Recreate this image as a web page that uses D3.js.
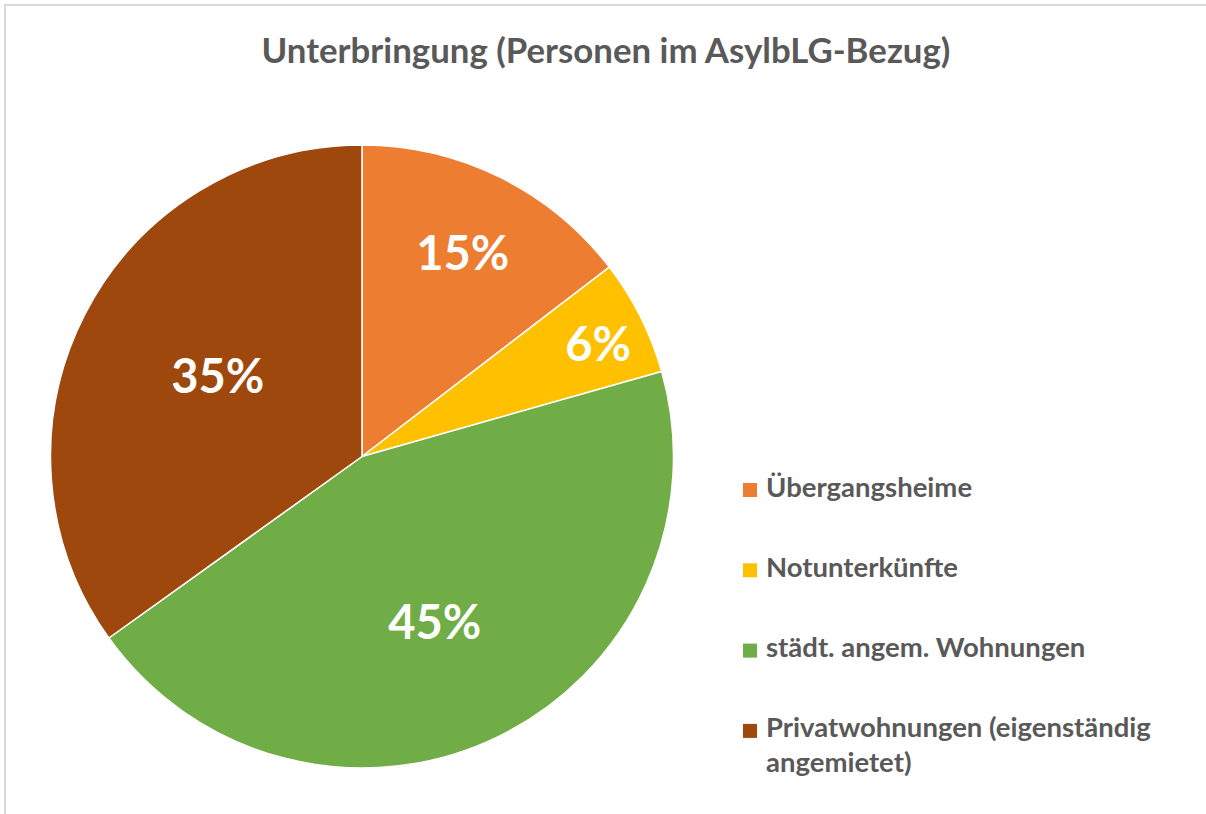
<!DOCTYPE html>
<html>
<head>
<meta charset="utf-8">
<script src="https://cdn.jsdelivr.net/npm/d3@7"></script>
<style>
  html, body { margin: 0; padding: 0; background: #fff; }
  svg { display: block; font-family: Lato, "Open Sans", sans-serif; }
</style>
</head>
<body>
<svg id="chart" width="1206" height="814"></svg>
<script>
// Unterbringung - pie chart, slices clockwise from 12 o'clock

const categories = [
  'Übergangsheime',
  'Notunterkünfte',
  'städt. angem. Wohnungen',
  'Privatwohnungen (eigenständig angemietet)'
];
const shares = [14.6, 6.0, 44.5, 34.9];
const percentLabels = ['15%', '6%', '45%', '35%']; // as printed on the slices
const legendLines = [
  ['Übergangsheime'],
  ['Notunterkünfte'],
  ['städt. angem. Wohnungen'],
  ['Privatwohnungen (eigenständig', 'angemietet)']
];
const colors = ['#ED7D31', '#FFC000', '#70AD47', '#9E480E'];

// layout
const cx = 362, cy = 456.5, radius = 311.5;
const labelRadius = [0.73, 0.84, 0.58, 0.53]; // Excel's best-fit spots, as fraction of radius
const labelTurn = [0, 0.02, 0.035, 0.035];    // small angular nudge (radians)

const svg = d3.select('#chart');

// chart area border (cut off at right and bottom in the reference)
svg.append('rect')
  .attr('x', 5).attr('y', 5)
  .attr('width', 1220).attr('height', 830)
  .attr('fill', '#fff')
  .attr('stroke', '#D9D9D9')
  .attr('stroke-width', 2);

// title
svg.append('text')
  .attr('x', 606)
  .attr('y', 63)
  .attr('text-anchor', 'middle')
  .attr('fill', '#595959')
  .attr('font-weight', 700)
  .attr('font-size', 34.8)
  .text('Unterbringung (Personen im AsylbLG-Bezug)');

const data = categories.map((c, i) => ({ name: c, value: shares[i], i }));

const pie = d3.pie()
  .sort(null)
  .value(d => d.value);

const arcs = pie(data);

const arc = d3.arc()
  .innerRadius(0)
  .outerRadius(radius);

const g = svg.append('g')
  .attr('transform', `translate(${cx},${cy})`);

g.selectAll('path.slice')
  .data(arcs)
  .enter()
  .append('path')
  .attr('class', 'slice')
  .attr('d', arc)
  .attr('fill', d => colors[d.data.i])
  .attr('stroke', '#fff')
  .attr('stroke-width', 1.5)
  .attr('stroke-linejoin', 'round');

// percentage labels
const midAngle = d => (d.startAngle + d.endAngle) / 2 + labelTurn[d.data.i];

g.selectAll('text.pct')
  .data(arcs)
  .enter()
  .append('text')
  .attr('class', 'pct')
  .attr('x', d => Math.sin(midAngle(d)) * radius * labelRadius[d.data.i])
  .attr('y', d => -Math.cos(midAngle(d)) * radius * labelRadius[d.data.i])
  .attr('dy', '0.36em')
  .attr('text-anchor', 'middle')
  .attr('fill', '#fff')
  .attr('font-weight', 700)
  .attr('font-size', 47)
  .text(d => percentLabels[d.data.i]);

// legend
const legendX = 743, legendY = 483, legendStep = 80.3, lineStep = 35;

const legend = svg.append('g')
  .attr('transform', `translate(${legendX},${legendY})`);

const items = legend.selectAll('g.item')
  .data(categories)
  .enter()
  .append('g')
  .attr('class', 'item')
  .attr('transform', (d, i) => `translate(0,${i * legendStep})`);

items.append('rect')
  .attr('width', 14)
  .attr('height', 14)
  .attr('fill', (d, i) => colors[i]);

items.append('text')
  .attr('x', 23)
  .attr('y', 13.5)
  .attr('fill', '#595959')
  .attr('font-weight', 700)
  .attr('font-size', 27.5)
  .selectAll('tspan')
  .data((d, i) => legendLines[i])
  .enter()
  .append('tspan')
  .attr('x', 23)
  .attr('dy', (d, j) => j === 0 ? 0 : lineStep)
  .text(d => d);
</script>
</body>
</html>
